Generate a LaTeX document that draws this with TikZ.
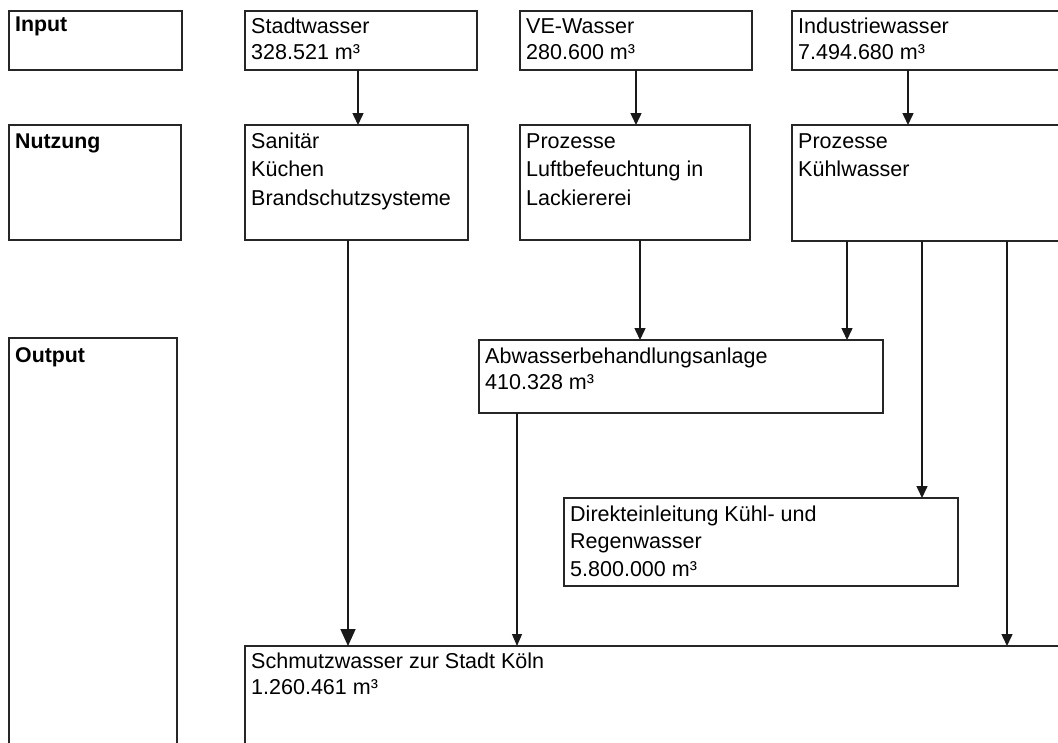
\documentclass[tikz,border=0pt]{standalone}
\usepackage{fontspec}
\setmainfont{Liberation Sans}
\usetikzlibrary{arrows.meta,calc}
\begin{document}
\begin{tikzpicture}[x=1bp,y=-1bp,
  box/.style={draw=black!85, line width=1.5bp, anchor=north west,
              inner sep=0pt, outer sep=0pt},
  wh/.style 2 args={minimum width=#1bp, minimum height=#2bp},
  txt/.style={anchor=base west, inner sep=0pt, font=\fontsize{21.6}{#1}\selectfont},
  txt/.default=27,
  head/.style={anchor=base west, inner sep=0pt, font=\fontsize{21.4}{27}\selectfont\bfseries},
  flow/.style={line width=1.5bp, draw=black!90, -{Triangle[length=12bp,width=11bp]}},
  flowbig/.style={line width=1.8bp, draw=black!90, -{Triangle[length=17bp,width=15bp]}},
  flowthin/.style={line width=1.1bp, draw=black!90, -{Triangle[length=12bp,width=10bp]}},
]
\useasboundingbox (0,0) rectangle (1058,743);
\clip (0,0) rectangle (1058,743);

% row headings
\node[box, wh={173}{59}]  (inp)  at (9,11)  {};
\node[box, wh={172}{115}] (nutz) at (9,125) {};
\node[box, wh={168}{430}] (outp) at (9,338) {};
\node[head] (h-inp)  at ([shift={(6,21)}]inp.north west)  {Input};
\node[head] (h-nutz) at ([shift={(6,23)}]nutz.north west) {Nutzung};
\node[head] (h-outp) at ([shift={(6,24)}]outp.north west) {Output};

% water sources
\node[box, wh={232}{59}] (stadt) at (245,11) {};
\node[box, wh={232}{59}] (ve)    at (520,11) {};
\node[box, wh={290}{59}] (ind)   at (792,11) {};
\node[txt=26] (t-stadt) at ([shift={(6,23)}]stadt.north west) {\vtop{\hbox{Stadtwasser}\hbox{328.521 m³}}};
\node[txt=26] (t-ve)    at ([shift={(6,23)}]ve.north west)    {\vtop{\hbox{VE-Wasser}\hbox{280.600 m³}}};
\node[txt=26] (t-ind)   at ([shift={(6,23)}]ind.north west)   {\vtop{\hbox{Industriewasser}\hbox{7.494.680 m³}}};

% usage
\node[box, wh={223}{115}] (san)   at (245,125) {};
\node[box, wh={230}{115}] (lack)  at (520,125) {};
\node[box, wh={290}{116}] (kuehl) at (792,125) {};
\node[txt=29] (t-san)   at ([shift={(6,23)}]san.north west)   {\vtop{\hbox{Sanitär}\hbox{Küchen}\hbox{Brandschutzsysteme}}};
\node[txt=29] (t-lack)  at ([shift={(6,23)}]lack.north west)  {\vtop{\hbox{Prozesse}\hbox{Luftbefeuchtung in}\hbox{Lackiererei}}};
\node[txt=29] (t-kuehl) at ([shift={(6,23)}]kuehl.north west) {\vtop{\hbox{Prozesse}\hbox{Kühlwasser}}};

% outputs
\node[box, wh={404}{73}]  (abw)    at (479,340) {};
\node[box, wh={394}{88}]  (direkt) at (564,498) {};
\node[box, wh={840}{130}] (schm)   at (245,646) {};
\node[txt] (t-abw)    at ([shift={(6,23)}]abw.north west)    {\vtop{\hbox{Abwasserbehandlungsanlage}\hbox{410.328 m³}}};
\node[txt=28] (t-direkt) at ([shift={(6,23)}]direkt.north west) {\vtop{\hbox{Direkteinleitung Kühl- und}\hbox{Regenwasser}\hbox{5.800.000 m³}}};
\node[txt] (t-schm)   at ([shift={(6,22)}]schm.north west)   {\vtop{\hbox{Schmutzwasser zur Stadt Köln}\hbox{1.260.461 m³}}};

% flows
\coordinate (a1) at ([xshift=113bp]stadt.south west);
\coordinate (a2) at ([xshift=116bp]ve.south west);
\coordinate (a3) at ([xshift=116bp]ind.south west);
\coordinate (a4) at ([xshift=120bp]lack.south west);
\coordinate (a5) at ([xshift=55bp]kuehl.south west);
\coordinate (a6) at ([xshift=130bp]kuehl.south west);
\coordinate (a7) at ([xshift=215bp]kuehl.south west);
\coordinate (a8) at ([xshift=103bp]san.south west);
\coordinate (a9) at ([xshift=38bp]abw.south west);

\draw[flow] (a1) -- (a1 |- san.north);
\draw[flow] (a2) -- (a2 |- lack.north);
\draw[flow] (a3) -- (a3 |- kuehl.north);
\draw[flow] (a4) -- (a4 |- abw.north);
\draw[flow] (a5) -- (a5 |- abw.north);
\draw[flow] (a6) -- (a6 |- direkt.north);
\draw[flow] (a7) -- (a7 |- schm.north);
\draw[flowbig] (a8) -- (a8 |- schm.north);
\draw[flowthin] (a9) -- (a9 |- schm.north);
\end{tikzpicture}
\end{document}
